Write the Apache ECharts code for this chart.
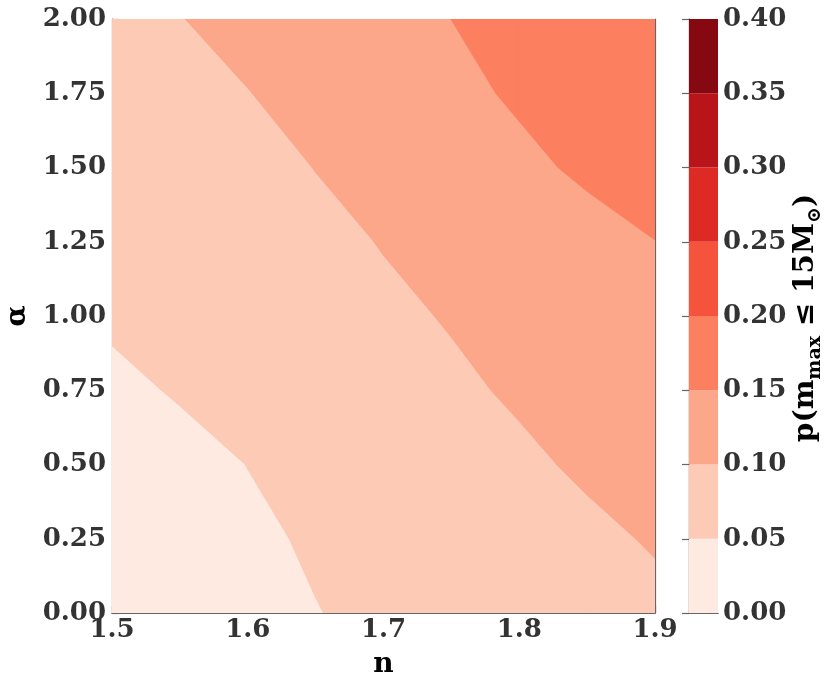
<!DOCTYPE html>
<html>
<head>
<meta charset="utf-8">
<script src="https://cdn.jsdelivr.net/npm/echarts@6/dist/echarts.min.js"></script>
<style>
html,body{margin:0;padding:0;background:#fff;}
#chart{width:831px;height:686px;}
</style>
</head>
<body>
<div id="chart"></div>
<script>
// grid of n (x) values
var nValues = [1.5, 1.55, 1.6, 1.65, 1.7, 1.75, 1.8, 1.85, 1.9];
// grid of alpha (y) values
var alphaValues = [0, 0.25, 0.5, 0.75, 1.0, 1.25, 1.5, 1.75, 2.0];
// p(m_max <= 15 Msun) on the grid, one row per alpha value
var pRow000 = [0.0230, 0.0317, 0.0403, 0.0490, 0.0576, 0.0663, 0.0749, 0.0836, 0.0922];
var pRow025 = [0.0243, 0.0341, 0.0440, 0.0538, 0.0636, 0.0734, 0.0832, 0.0930, 0.1028];
var pRow050 = [0.0286, 0.0395, 0.0504, 0.0613, 0.0722, 0.0831, 0.0940, 0.1049, 0.1158];
var pRow075 = [0.0425, 0.0528, 0.0631, 0.0734, 0.0837, 0.0940, 0.1043, 0.1146, 0.1249];
var pRow100 = [0.0550, 0.0645, 0.0740, 0.0835, 0.0929, 0.1024, 0.1119, 0.1214, 0.1309];
var pRow125 = [0.0560, 0.0674, 0.0788, 0.0902, 0.1016, 0.1136, 0.1255, 0.1375, 0.1495];
var pRow150 = [0.0593, 0.0731, 0.0869, 0.1007, 0.1145, 0.1283, 0.1421, 0.1559, 0.1697];
var pRow175 = [0.0712, 0.0852, 0.0991, 0.1130, 0.1270, 0.1409, 0.1548, 0.1688, 0.1827];
var pRow200 = [0.0863, 0.0990, 0.1118, 0.1246, 0.1373, 0.1501, 0.1630, 0.1760, 0.1880];
// contour levels and colours
var levels = [0, 0.05, 0.10, 0.15, 0.20, 0.25, 0.30, 0.35, 0.40];
var levelColors = ['#feeae1', '#fccab5', '#fca78a', '#fc7f5f', '#f5533b', '#dd2a25', '#b81419', '#860811'];
// tick labels
var xTicks = ['1.5', '1.6', '1.7', '1.8', '1.9'];
var yTicks = ['0.00', '0.25', '0.50', '0.75', '1.00', '1.25', '1.50', '1.75', '2.00'];
var cbTicks = ['0.00', '0.05', '0.10', '0.15', '0.20', '0.25', '0.30', '0.35', '0.40'];

var Z = [pRow000, pRow025, pRow050, pRow075, pRow100, pRow125, pRow150, pRow175, pRow200];

function cellPoly(i, j, L) {
  var c = [
    [nValues[i], alphaValues[j], Z[j][i]],
    [nValues[i + 1], alphaValues[j], Z[j][i + 1]],
    [nValues[i + 1], alphaValues[j + 1], Z[j + 1][i + 1]],
    [nValues[i], alphaValues[j + 1], Z[j + 1][i]]
  ];
  var pts = [];
  for (var m = 0; m < 4; m++) {
    var a = c[m], b = c[(m + 1) % 4];
    var ain = a[2] >= L, bin = b[2] >= L;
    if (ain) pts.push([a[0], a[1]]);
    if (ain !== bin) {
      var t = (L - a[2]) / (b[2] - a[2]);
      pts.push([a[0] + t * (b[0] - a[0]), a[1] + t * (b[1] - a[1])]);
    }
  }
  return pts;
}

var FONT = 'DejaVu Serif';
var TICKC = '#333';
var LINEC = '#666';

var contourData = [];
for (var k = 0; k < levelColors.length; k++) contourData.push([levels[k], levels[k + 1]]);

function renderContour(params, api) {
  var k = params.dataIndex;
  var L = levels[k];
  var col = levelColors[k];
  var children = [];
  for (var j = 0; j < alphaValues.length - 1; j++) {
    for (var i = 0; i < nValues.length - 1; i++) {
      var p = cellPoly(i, j, L);
      if (p.length >= 3) {
        children.push({
          type: 'polygon',
          shape: { points: p.map(function (q) { return api.coord(q); }) },
          style: { fill: col, stroke: col, lineWidth: 1 }
        });
      }
    }
  }
  return { type: 'group', children: children };
}

function renderBar(params, api) {
  var lo = api.value(0), hi = api.value(1);
  var p0 = api.coord([0, lo]);
  var p1 = api.coord([1, hi]);
  return {
    type: 'rect',
    shape: { x: p0[0], y: p1[1], width: p1[0] - p0[0], height: p0[1] - p1[1] },
    style: { fill: levelColors[params.dataIndex] }
  };
}

var lblStyle = { fontFamily: FONT, fontWeight: 'bold', fontSize: 26, color: TICKC };

var chart = echarts.init(document.getElementById('chart'), null, { renderer: 'canvas' });
chart.setOption({
  animation: false,
  backgroundColor: '#fff',
  grid: [
    { left: 112, top: 19, width: 543, height: 594, containLabel: false, outerBoundsMode: 'none' },
    { left: 689, top: 19, width: 29, height: 594, containLabel: false, outerBoundsMode: 'none' }
  ],
  xAxis: [
    {
      type: 'value', gridIndex: 0, position: 'bottom', min: 1.5, max: 1.9, interval: 0.1,
      axisLine: { show: true, lineStyle: { color: LINEC, width: 1.2 } },
      axisTick: { show: true, inside: true, length: 7, lineStyle: { color: LINEC, width: 1.2 } },
      splitLine: { show: false },
      axisLabel: Object.assign({ margin: 4, formatter: function (v) { return xTicks[Math.round((v - 1.5) / 0.1)]; } }, lblStyle),
      name: 'n', nameLocation: 'middle', nameGap: 38,
      nameTextStyle: { fontFamily: FONT, fontWeight: 'bold', fontSize: 28, color: '#000' }
    },
    {
      type: 'value', gridIndex: 0, position: 'top', min: 1.5, max: 1.9,
      axisLine: { show: true, lineStyle: { color: LINEC, width: 1.2 } },
      axisTick: { show: false }, axisLabel: { show: false }, splitLine: { show: false }
    },
    {
      type: 'value', gridIndex: 1, position: 'bottom', min: 0, max: 1,
      axisLine: { show: true, lineStyle: { color: LINEC, width: 1.2 } },
      axisTick: { show: false }, axisLabel: { show: false }, splitLine: { show: false }
    },
    {
      type: 'value', gridIndex: 1, position: 'top', min: 0, max: 1,
      axisLine: { show: true, lineStyle: { color: LINEC, width: 1.2 } },
      axisTick: { show: false }, axisLabel: { show: false }, splitLine: { show: false }
    }
  ],
  yAxis: [
    {
      type: 'value', gridIndex: 0, position: 'left', min: 0, max: 2, interval: 0.25,
      axisLine: { show: true, lineStyle: { color: LINEC, width: 1.2 } },
      axisTick: { show: true, inside: true, length: 7, lineStyle: { color: LINEC, width: 1.2 } },
      splitLine: { show: false },
      axisLabel: Object.assign({ margin: 6, formatter: function (v) { return yTicks[Math.round(v / 0.25)]; } }, lblStyle),
      name: 'α', nameLocation: 'middle', nameGap: 76, nameRotate: 90,
      nameTextStyle: { fontFamily: FONT, fontWeight: 'bold', fontSize: 28, color: '#000' }
    },
    {
      type: 'value', gridIndex: 0, position: 'right', min: 0, max: 2,
      axisLine: { show: true, lineStyle: { color: LINEC, width: 1.2 } },
      axisTick: { show: false }, axisLabel: { show: false }, splitLine: { show: false }
    },
    {
      type: 'value', gridIndex: 1, position: 'right', min: 0, max: 0.4, interval: 0.05,
      axisLine: { show: true, lineStyle: { color: LINEC, width: 1.2 } },
      axisTick: { show: true, inside: true, length: 7, lineStyle: { color: LINEC, width: 1.2 } },
      splitLine: { show: false },
      axisLabel: Object.assign({ margin: 5, formatter: function (v) { return cbTicks[Math.round(v / 0.05)]; } }, lblStyle)
    },
    {
      type: 'value', gridIndex: 1, position: 'left', min: 0, max: 0.4,
      axisLine: { show: true, lineStyle: { color: LINEC, width: 1.2 } },
      axisTick: { show: false }, axisLabel: { show: false }, splitLine: { show: false }
    }
  ],
  series: [
    {
      type: 'custom', name: 'contour', xAxisIndex: 0, yAxisIndex: 0,
      data: contourData, renderItem: renderContour, clip: true, silent: true
    },
    {
      type: 'custom', name: 'colorbar', xAxisIndex: 2, yAxisIndex: 2,
      data: contourData, renderItem: renderBar, silent: true
    }
  ],
  graphic: [
    {
      type: 'text', x: 806, y: 318, rotation: Math.PI / 2,
      style: {
        text: '{a|p(m}{s|max}{a| ≤ 15M}{s|⊙}{a|)}',
        align: 'center', verticalAlign: 'middle',
        rich: {
          a: { fontFamily: FONT, fontWeight: 'bold', fontSize: 28, lineHeight: 38, fill: '#000' },
          s: { fontFamily: FONT, fontWeight: 'bold', fontSize: 19, lineHeight: 22, verticalAlign: 'bottom', fill: '#000' }
        }
      }
    }
  ]
});
</script>
</body>
</html>
